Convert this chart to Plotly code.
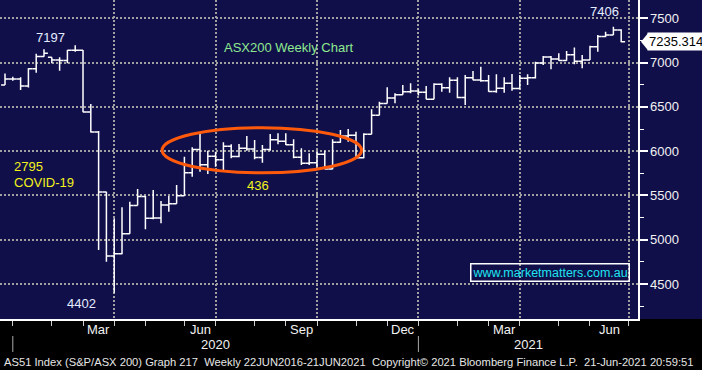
import plotly.graph_objects as go
import pandas as pd

# ---- data (weekly bars, week ending Friday) ----
week_start = "2019-12-20"
n_weeks = 80
opens = [6746, 6815, 6815, 6736, 6930, 7070, 7060, 7030, 7025, 7140,
         7139, 6441, 6216, 5539, 4817, 4842, 5067, 5387, 5488, 5242,
         5245, 5391, 5405, 5497, 5755, 6020, 5847, 5942, 5904, 6055,
         5940, 6033, 6024, 5928, 6020, 6129, 6113, 6073, 5930, 5863,
         5870, 5965, 5799, 6102, 6171, 6180, 5927, 6190, 6405, 6539,
         6601, 6636, 6672, 6680, 6664, 6587, 6757, 6715, 6800, 6607,
         6830, 6805, 6795, 6673, 6710, 6767, 6708, 6824, 6828, 6995,
         7063, 7040, 7025, 7090, 7014, 7030, 7179, 7295, 7312, 7369]
highs = [6878, 6840, 6834, 6935, 7100, 7150, 7060, 7060, 7142, 7197,
         7142, 6532, 6228, 5543, 5242, 5366, 5430, 5573, 5494, 5562,
         5437, 5494, 5618, 5937, 6044, 6194, 6005, 5994, 6100, 6077,
         6080, 6171, 6126, 6070, 6194, 6202, 6202, 6134, 6032, 5976,
         5994, 6005, 6134, 6239, 6250, 6220, 6202, 6473, 6558, 6721,
         6653, 6747, 6766, 6700, 6736, 6766, 6766, 6834, 6834, 6860,
         6905, 6954, 6860, 6868, 6834, 6871, 6860, 6868, 7010, 7074,
         7074, 7105, 7131, 7172, 7086, 7190, 7311, 7349, 7406, 7376]
lows = [6746, 6795, 6690, 6720, 6886, 7067, 6992, 6908, 6992, 7123,
        6440, 6210, 4884, 4752, 4402, 4835, 5067, 5387, 5118, 5231,
        5186, 5317, 5405, 5497, 5712, 5768, 5742, 5825, 5776, 5920,
        5930, 6005, 5908, 5870, 6005, 6077, 6070, 5920, 5844, 5844,
        5807, 5795, 5795, 6095, 6107, 5920, 5920, 6190, 6405, 6539,
        6540, 6636, 6653, 6630, 6585, 6585, 6672, 6660, 6597, 6521,
        6800, 6784, 6672, 6660, 6660, 6683, 6700, 6747, 6820, 6973,
        6924, 7021, 7021, 6981, 6935, 7030, 7123, 7285, 7312, 7229]
closes = [6815, 6815, 6736, 6930, 7070, 7105, 7030, 7025, 7140, 7139,
          6441, 6216, 5539, 4817, 4842, 5067, 5387, 5488, 5242, 5245,
          5391, 5405, 5497, 5755, 6020, 5847, 5942, 5904, 6055, 5940,
          6033, 6024, 5928, 6020, 6129, 6113, 6073, 5930, 5863, 5870,
          5965, 5799, 6102, 6171, 6180, 5927, 6190, 6405, 6539, 6601,
          6636, 6672, 6680, 6664, 6587, 6757, 6715, 6800, 6607, 6830,
          6805, 6795, 6673, 6710, 6767, 6708, 6824, 6828, 6995, 7063,
          7040, 7025, 7090, 7014, 7030, 7179, 7295, 7312, 7369, 7235.314]

# month boundary ticks (last weekly bar of each month) and quarter grid lines
month_ticks = ["2019-12-27", "2020-01-31", "2020-02-28", "2020-03-27", "2020-04-24",
               "2020-05-29", "2020-06-26", "2020-07-31", "2020-08-28", "2020-09-25",
               "2020-10-30", "2020-11-27", "2020-12-25", "2021-01-29", "2021-02-26",
               "2021-03-26", "2021-04-30", "2021-05-28", "2021-07-02"]
quarter_lines = ["2020-03-27", "2020-06-26", "2020-09-25", "2020-12-25",
                 "2021-03-26", "2021-07-02"]
month_labels = [("Mar", "2020-02-28", "2020-03-27"), ("Jun", "2020-05-29", "2020-06-26"),
                ("Sep", "2020-08-28", "2020-09-25"), ("Dec", "2020-11-27", "2020-12-25"),
                ("Mar", "2021-02-26", "2021-03-26"), ("Jun", "2021-05-28", "2021-07-02")]
year_bounds = ["2019-12-27", "2020-12-25"]
x_range = ["2019-12-15 12:00", "2021-07-10 02:00"]
y_range = [4105, 7707]
y_major = [4500, 5000, 5500, 6000, 6500, 7000, 7500]
y_minor = [4250, 4750, 5250, 5750, 6250, 6750, 7250]
last_price = 7235.314

dates = pd.date_range(week_start, periods=n_weeks, freq="W-FRI")

NAVY = "#100f4a"
GRID = "#a0a0a0"
WHITE = "#f2f2f2"
YELLOW = "#f2f21a"
GREEN = "#8fe98f"
CYAN = "#1fe3f0"
FONT = "Arial, Liberation Sans, sans-serif"

W, H = 702, 370
PL, PR, PT, PB = 0, 638, 0, 319  # plot-area pixel box


def px(x, y):
    return x / (PR - PL), (PB - y) / (PB - PT)


fig = go.Figure(go.Ohlc(
    x=dates, open=opens, high=highs, low=lows, close=closes,
    increasing=dict(line=dict(color="white", width=1.5)),
    decreasing=dict(line=dict(color="white", width=1.5)),
    tickwidth=0.5, hoverinfo="skip"))

annotations = []


def add_text(text, x, y, color, size=13, anchor="center", **kw):
    ax, ay = px(x, y)
    annotations.append(dict(text=text, x=ax, y=ay, xref="paper", yref="paper",
                            xanchor=anchor, yanchor="middle", showarrow=False,
                            font=dict(family=FONT, size=size, color=color), **kw))


add_text("7197", 50, 38, "#e4ecff")
add_text("7406", 604, 12, "#e4ecff")
add_text("4402", 81, 303, "#e4ecff")
add_text("2795", 12, 166, YELLOW, anchor="left")
add_text("COVID-19", 12, 182, YELLOW, anchor="left")
add_text("436", 257.5, 186, YELLOW)
add_text("ASX200 Weekly Chart", 222, 47, GREEN, anchor="left")
add_text("www.marketmatters.com.au", 550, 272, CYAN, size=12.5,
         bordercolor="white", borderwidth=1.5, borderpad=1)

# month and year labels below the axis
for lab, a, b in month_labels:
    ta, tb = pd.Timestamp(a), pd.Timestamp(b)
    annotations.append(dict(text=lab, x=ta + (tb - ta) / 2, y=px(0, 329)[1],
                            xref="x", yref="paper", showarrow=False,
                            xanchor="center", yanchor="middle",
                            font=dict(family=FONT, size=13, color=WHITE)))
y0, y1 = pd.Timestamp(year_bounds[0]), pd.Timestamp(year_bounds[1])
xe = pd.Timestamp(x_range[1])
for lab, a, b in [("2020", y0, y1), ("2021", y1, xe)]:
    annotations.append(dict(text=lab, x=a + (b - a) / 2, y=px(0, 344)[1],
                            xref="x", yref="paper", showarrow=False,
                            xanchor="center", yanchor="middle",
                            font=dict(family=FONT, size=13, color=WHITE)))

# footer
annotations.append(dict(
    text="AS51 Index (S&P/ASX 200) Graph 217  Weekly 22JUN2016-21JUN2021  "
         "Copyright\u00a9 2021 Bloomberg Finance L.P.  21-Jun-2021 20:59:51",
    x=px(2, 0)[0], y=px(0, 362)[1], xref="paper", yref="paper", showarrow=False,
    xanchor="left", yanchor="middle",
    font=dict(family=FONT, size=11.2, color="#e6e6e6")))

# last price label
annotations.append(dict(text=f"{last_price:.3f}", x=px(647, 0)[0], y=last_price,
                        xref="paper", yref="y", xanchor="left", yanchor="middle",
                        showarrow=False, bgcolor="white", borderpad=1,
                        font=dict(family=FONT, size=13, color="black")))

shapes = [
    # black strip under the plot
    dict(type="rect", xref="paper", yref="paper", x0=-0.05, x1=1.2, y0=-0.3, y1=0,
         fillcolor="black", line=dict(width=0), layer="below"),
    # orange ellipse around the consolidation
    dict(type="circle", xref="x", yref="y", x0="2020-05-09", x1="2020-11-04",
         y0=5755, y1=6265, line=dict(color="#ff5a0c", width=3)),
    # pointer of last price label
    dict(type="path", xref="paper", yref="y",
         path=f"M {px(641, 0)[0]},{last_price} L {px(648, 0)[0]},{last_price + 95} "
              f"L {px(648, 0)[0]},{last_price - 95} Z",
         fillcolor="white", line=dict(width=0)),
]
for d in year_bounds:
    shapes.append(dict(type="line", xref="x", yref="paper", x0=d, x1=d,
                       y0=px(0, 336)[1], y1=px(0, 352)[1],
                       line=dict(color="#a8a8a8", width=1)))

fig.update_layout(
    width=W, height=H, margin=dict(l=PL, r=W - PR, t=PT, b=H - PB, autoexpand=False),
    paper_bgcolor=NAVY, plot_bgcolor=NAVY, showlegend=False,
    annotations=annotations, shapes=shapes,
    xaxis=dict(type="date", range=x_range, rangeslider=dict(visible=False),
               automargin=False,
               tickmode="array", tickvals=month_ticks, ticktext=[""] * len(month_ticks),
               ticks="outside", ticklen=5, tickwidth=1, tickcolor="#d0d0d0",
               showgrid=False, zeroline=False,
               showline=True, linecolor="white", linewidth=1.5,
               minor=dict(tickvals=quarter_lines, showgrid=True, gridcolor=GRID,
                          gridwidth=2, griddash="2px,2px", ticks="")),
    yaxis=dict(side="right", range=y_range, tickmode="array", tickvals=y_major,
               automargin=False,
               ticktext=[str(v) for v in y_major],
               showgrid=True, gridcolor=GRID, gridwidth=2, griddash="2px,2px",
               ticks="outside", ticklen=8, tickwidth=2, tickcolor="white",
               showline=True, linecolor="white", linewidth=1.5, zeroline=False,
               tickfont=dict(family=FONT, size=13, color=WHITE),
               minor=dict(tickvals=y_minor, ticks="outside", ticklen=4,
                          tickwidth=1, tickcolor="white", showgrid=False)),
)

fig.write_html("out.html", config={"displayModeBar": False, "staticPlot": True})

# remove the browser's default page margin so the figure sits at (0, 0)
with open("out.html", encoding="utf-8") as f:
    html = f.read()
html = html.replace("<head>", "<head><style>html,body{margin:0;padding:0;background:#000}</style>", 1)
with open("out.html", "w", encoding="utf-8") as f:
    f.write(html)
